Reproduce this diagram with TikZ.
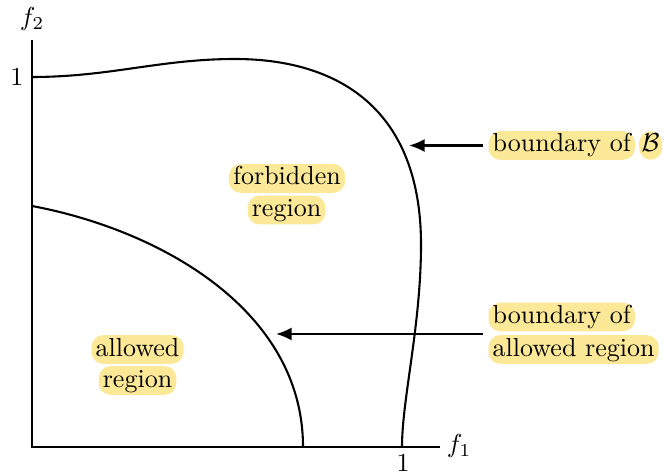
\documentclass[tikz,border=0pt]{standalone}
\usetikzlibrary{arrows.meta}
\definecolor{hlc}{RGB}{252,233,152}
\tikzset{
  hl/.style={fill=hlc, rounded corners=4.5pt, inner xsep=1.6pt, inner ysep=1pt, text height=7pt, text depth=2pt},
  curve/.style={line width=0.8pt},
  axis/.style={line width=0.8pt},
  pointer/.style={line width=0.8pt, -{Latex[length=6pt,width=5pt]}, shorten <=2pt},
  lbl/.style={inner sep=1pt}
}
\begin{document}
\begin{tikzpicture}[x=0.3846pt,y=-0.3846pt]
\useasboundingbox (0,0) rectangle (664,475);
% axes
\coordinate (O) at (32,447);
\coordinate (xend) at (440,447);
\coordinate (yend) at (32,40);
\draw[axis] (yend) -- (O) -- (xend);
\node[lbl] (f1) at (459,446) {$f_1$};
\node[lbl] (f2) at (32,19) {$f_2$};
\node[lbl] (one1) at (403,463) {$1$};
\node[lbl] (one2) at (17,77) {$1$};
% outer boundary
\draw[curve] (32,77) .. controls (110,77) and (160,59) .. (235,59)
  .. controls (335,59) and (423,106) .. (421,250)
  .. controls (420,330) and (402,400) .. (402,447);
% inner boundary
\draw[curve] (32,206) .. controls (160,230) and (303,310) .. (303,447);
% labels
\node[hl] (forb) at (287,178.5) {forbidden};
\node[hl] (forbreg) at (286.5,210) {region};
\node[hl] (allow) at (137.5,349.5) {allowed};
\node[hl] (allowreg) at (137.5,380.5) {region};
\node[hl, anchor=west] (bB) at (488,145.5) {boundary of};
\node[hl, anchor=west, inner xsep=1pt] (calB) at ([xshift=1.2pt]bB.east) {$\mathcal{B}$};
\node[hl, anchor=west] (bA) at (488,317) {boundary of};
\node[hl, anchor=west] (bAreg) at (488,349.5) {allowed region};
% pointers
\coordinate (tipB) at (409,145.5);
\coordinate (tipA) at (276,334);
\draw[pointer] (bB.west) -- (tipB);
\draw[pointer] (bA.west |- tipA) -- (tipA);
\end{tikzpicture}
\end{document}
